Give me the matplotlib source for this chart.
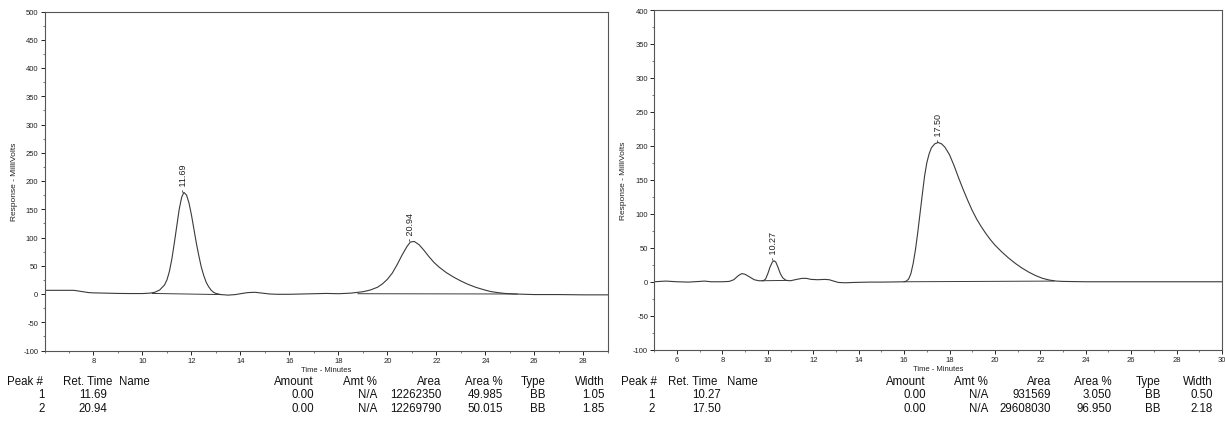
import matplotlib
matplotlib.use("Agg")
import matplotlib.pyplot as plt
from matplotlib.ticker import MultipleLocator

plt.rcParams['font.family'] = ['Liberation Sans', 'DejaVu Sans']
plt.rcParams['axes.unicode_minus'] = False

# ---------------- data: left chromatogram ----------------
left_time = [6.0, 6.5, 7.0, 7.2, 7.5, 7.8, 8.0, 8.5, 9.0, 9.5, 10.0, 10.3, 10.5, 10.7,
             10.9, 11.0, 11.1, 11.2, 11.3, 11.4, 11.5, 11.6, 11.69, 11.8, 11.9, 12.0,
             12.1, 12.2, 12.3, 12.4, 12.5, 12.6, 12.7, 12.8, 12.9, 13.0, 13.2, 13.5,
             13.8, 14.0, 14.3, 14.6, 14.9, 15.2, 15.5, 16.0, 16.5, 17.0, 17.5, 18.0,
             18.5, 18.8, 19.0, 19.3, 19.6, 19.8, 20.0, 20.2, 20.4, 20.6, 20.8, 20.94,
             21.1, 21.3, 21.5, 21.7, 21.9, 22.1, 22.4, 22.7, 23.0, 23.3, 23.6, 23.9,
             24.2, 24.5, 24.8, 25.2, 26.0, 27.0, 28.0, 29.0]
left_mv = [6.5, 6.5, 6.5, 6.5, 4.5, 2.5, 2.0, 1.5, 1.0, 0.8, 0.8, 1.5, 3.0, 7.0,
           16.0, 25.0, 40.0, 62.0, 90.0, 120.0, 150.0, 171.0, 180.0, 175.0, 161.0, 140.0,
           115.0, 90.0, 68.0, 48.0, 33.0, 21.0, 13.0, 7.0, 3.0, 1.0, -1.0, -2.0,
           -1.0, 0.5, 2.5, 3.0, 1.5, 0.0, -0.5, -0.5, 0.0, 0.5, 1.0, 0.5,
           1.5, 3.0, 4.0, 7.0, 12.0, 18.0, 26.0, 37.0, 52.0, 69.0, 84.0, 92.0,
           93.0, 87.0, 77.0, 66.0, 56.0, 48.0, 38.0, 30.0, 23.0, 17.0, 12.0, 8.0,
           4.5, 2.5, 1.0, 0.0, -1.0, -1.0, -1.5, -1.5]
left_peak_times = [11.69, 20.94]
left_peak_heights = [180.0, 93.0]
left_base_x = [[10.4, 13.2], [18.8, 25.3]]
left_base_y = [[1.0, -1.0], [0.5, 0.0]]

# ---------------- data: right chromatogram ----------------
right_time = [5.0, 5.5, 6.0, 6.5, 7.0, 7.2, 7.5, 8.0, 8.3, 8.5, 8.7, 8.85, 9.0, 9.2,
              9.4, 9.6, 9.8, 9.9, 10.0, 10.1, 10.2, 10.27, 10.35, 10.45, 10.55, 10.65,
              10.8, 11.0, 11.2, 11.5, 11.7, 11.9, 12.2, 12.5, 12.7, 12.9, 13.1, 13.4,
              13.8, 14.5, 15.0, 15.5, 16.0, 16.1, 16.2, 16.3, 16.4, 16.5, 16.6, 16.7,
              16.8, 16.9, 17.0, 17.1, 17.2, 17.35, 17.5, 17.65, 17.8, 18.0, 18.2, 18.4,
              18.6, 18.8, 19.0, 19.2, 19.4, 19.6, 19.8, 20.0, 20.3, 20.6, 20.9, 21.2,
              21.5, 21.8, 22.1, 22.4, 22.7, 23.0, 24.0, 25.0, 26.0, 27.0, 28.0, 29.0, 30.0]
right_mv = [0.0, 1.0, 0.0, -0.5, 0.5, 1.0, 0.0, 0.0, 0.5, 3.0, 9.0, 12.0, 11.0, 7.0,
            3.0, 1.5, 1.5, 4.0, 12.0, 22.0, 29.0, 31.0, 29.0, 21.0, 12.0, 6.0,
            2.0, 1.5, 3.0, 5.0, 5.0, 3.5, 3.0, 3.5, 3.0, 1.0, -1.0, -1.5,
            -1.0, -0.5, -0.5, -0.3, 0.0, 1.0, 4.0, 12.0, 27.0, 47.0, 72.0, 100.0,
            128.0, 155.0, 175.0, 188.0, 197.0, 203.0, 205.0, 203.0, 198.0, 187.0, 171.0, 153.0,
            136.0, 120.0, 105.0, 92.0, 81.0, 71.0, 62.0, 54.0, 44.0, 35.0, 27.0, 20.0,
            14.0, 9.0, 5.0, 2.5, 1.0, 0.5, 0.0, 0.0, 0.0, 0.0, 0.0, 0.0, 0.0]
right_peak_times = [10.27, 17.50]
right_peak_heights = [31.0, 205.0]
right_base_x = [[9.75, 10.85], [16.0, 22.6]]
right_base_y = [[1.5, 2.0], [0.0, 1.0]]

# ---------------- table text ----------------
table_header = ["Peak #", "Ret. Time", "Name", "Amount", "Amt %", "Area", "Area %", "Type", "Width"]
left_rows = [["1", "11.69", "", "0.00", "N/A", "12262350", "49.985", "BB", "1.05"],
             ["2", "20.94", "", "0.00", "N/A", "12269790", "50.015", "BB", "1.85"]]
right_rows = [["1", "10.27", "", "0.00", "N/A", "931569", "3.050", "BB", "0.50"],
              ["2", "17.50", "", "0.00", "N/A", "29608030", "96.950", "BB", "2.18"]]

W, H = 1225, 427
fig = plt.figure(figsize=(W / 100, H / 100), dpi=100)

line_col = '#3a3a3a'


def make_axes(rect, xlim, ylim, times, mv, ptimes, pheights, bx, by):
    ax = fig.add_axes(rect)
    ax.plot(times, mv, color=line_col, lw=0.8)
    for xs, ys in zip(bx, by):
        ax.plot(xs, ys, color=line_col, lw=0.7)
    for t, h in zip(ptimes, pheights):
        ax.text(t, h + 2, "- %.2f" % t, rotation=90, ha='center', va='bottom',
                fontsize=6.5, color='#222222')
    ax.set_xlim(*xlim)
    ax.set_ylim(*ylim)
    ax.xaxis.set_major_locator(MultipleLocator(2))
    ax.xaxis.set_minor_locator(MultipleLocator(1))
    ax.yaxis.set_major_locator(MultipleLocator(50))
    ax.yaxis.set_minor_locator(MultipleLocator(25))
    ax.tick_params(axis='both', which='major', direction='out', length=3, width=0.7,
                   labelsize=5.5, colors='#222222', pad=1.5)
    ax.tick_params(axis='both', which='minor', direction='out', length=1.5, width=0.5,
                   colors='#444444')
    for s in ax.spines.values():
        s.set_linewidth(0.8)
        s.set_color('#555555')
    ax.set_xlabel("Time - Minutes", fontsize=5.5, labelpad=1.5, color='#222222')
    ax.set_ylabel("Response - MilliVolts", fontsize=6, labelpad=4, color='#222222')
    return ax


axL = make_axes([44.5 / W, 1 - 351.5 / H, (607.8 - 44.5) / W, (351.5 - 12.5) / H],
                (6, 29), (-100, 500), left_time, left_mv,
                left_peak_times, left_peak_heights, left_base_x, left_base_y)
axL.set_xticks([8, 10, 12, 14, 16, 18, 20, 22, 24, 26, 28])

axR = make_axes([654.3 / W, 1 - 350.7 / H, (1222 - 654.3) / W, (350.7 - 11.0) / H],
                (5, 30), (-100, 400), right_time, right_mv,
                right_peak_times, right_peak_heights, right_base_x, right_base_y)
axR.set_xticks([6, 8, 10, 12, 14, 16, 18, 20, 22, 24, 26, 28, 30])

aligns = ['left', 'left', 'left', 'right', 'right', 'right', 'right', 'right', 'right']
left_cols_x = [7, 63, 119, 314, 377, 441.7, 503, 545.7, 605]
right_cols_x = [621, 668, 727, 926, 988, 1051, 1112, 1161, 1213]
TFS = 8.3


def draw_block(cols_x, rows, num_x):
    for x, a, txt in zip(cols_x, aligns, table_header):
        fig.text(x / W, 1 - 382 / H, txt, ha=a, va='center', fontsize=TFS, color='#111111')
    for r, row in enumerate(rows):
        y = 382 + (r + 1) * 13.5
        xs = num_x + cols_x[2:]
        for x, txt in zip(xs, row):
            if txt:
                fig.text(x / W, 1 - y / H, txt, ha='right', va='center', fontsize=TFS,
                         color='#111111')


draw_block(left_cols_x, left_rows, [45, 107])
draw_block(right_cols_x, right_rows, [655, 721])

fig.savefig("out.png", dpi=100, facecolor='white')
